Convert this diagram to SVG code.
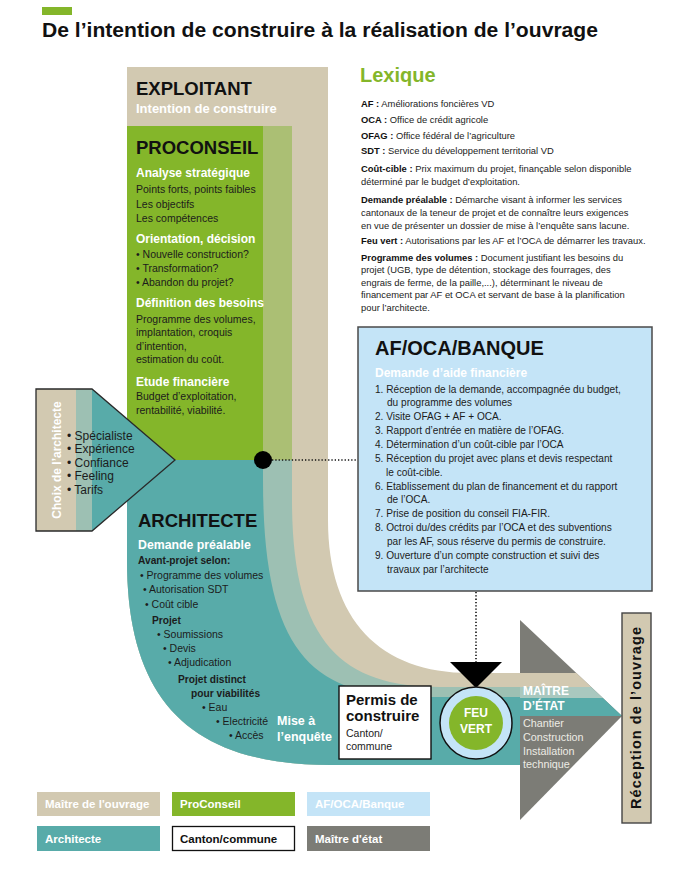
<svg xmlns="http://www.w3.org/2000/svg" width="700" height="874" viewBox="0 0 700 874">
<defs>
<style>
text{font-family:"Liberation Sans",Arial,sans-serif;}
.h1{font-size:18.5px;font-weight:bold;fill:#111}
.h2{font-size:12px;font-weight:bold;fill:#fff}
.t{font-size:10.5px;fill:#1c1c1c}
.tb{font-size:10.2px;font-weight:bold;fill:#1c1c1c}
.lx{font-size:9.4px;fill:#222}
.lx tspan.b{font-weight:bold;fill:#111}
.li{font-size:10.1px;fill:#1c1c1c}
.me{font-size:10.8px;fill:#ecebe4}
.lg{font-size:11.5px;font-weight:bold;fill:#fff}
.dotl{stroke:#111;stroke-width:1.6;stroke-dasharray:1.3 2;fill:none}
.beige{fill:#d2c9b1}
.green{fill:#84b62a}
.olive{fill:#abbf74}
.teal{fill:#58aba9}
.gteal{fill:#9dc0b3}
.blue{fill:#c4e4f7}
.gray{fill:#7c7c76}
</style>
<clipPath id="arrowClip"><path d="M520,620 L622,716 L520,820 Z"/></clipPath>
</defs>
<rect width="700" height="874" fill="#fff"/>

<g id="title">
<rect x="42" y="7" width="30" height="8" class="green"/>
<text x="42" y="37" font-size="19.5" font-weight="bold" fill="#111" textLength="556" lengthAdjust="spacingAndGlyphs">De l’intention de construire à la réalisation de l’ouvrage</text>
</g>

<g id="flow-bands">
<path class="beige" d="M127,67 H328 V520 C328,620 380,673 470,673 H520 V765 H330 C190,765 127,700 127,560 Z"/>
<path class="gteal" d="M127,126 H292 V500 C292,640 340,687 440,687 H520 V765 H330 C190,765 127,700 127,560 Z"/>
<rect x="263" y="126" width="29" height="334" class="olive"/>
<path class="teal" d="M127,460 H263 V480 C263,650 310,697 420,697 H520 V765 H330 C190,765 127,700 127,560 Z"/>
<rect x="127" y="126" width="136" height="334" class="green"/>
</g>

<g id="exploitant">
<text x="136" y="95" class="h1">EXPLOITANT</text>
<text x="136" y="113" font-size="13" font-weight="bold" fill="#fff">Intention de construire</text>
</g>

<g id="proconseil">
<text x="136" y="154" class="h1">PROCONSEIL</text>
<text x="136" y="177" class="h2">Analyse stratégique</text>
<text x="136" y="193" class="t">Points forts, points faibles</text>
<text x="136" y="208" class="t">Les objectifs</text>
<text x="136" y="222" class="t">Les compétences</text>
<text x="136" y="243" class="h2">Orientation, décision</text>
<text x="136" y="258" class="t">• Nouvelle construction?</text>
<text x="136" y="272" class="t">• Transformation?</text>
<text x="136" y="286" class="t">• Abandon du projet?</text>
<text x="136" y="307" class="h2">Définition des besoins</text>
<text x="136" y="323" class="t">Programme des volumes,</text>
<text x="136" y="336" class="t">implantation, croquis</text>
<text x="136" y="350" class="t">d’intention,</text>
<text x="136" y="363" class="t">estimation du coût.</text>
<text x="136" y="386" class="h2">Etude financière</text>
<text x="136" y="400" class="t">Budget d’exploitation,</text>
<text x="136" y="414" class="t">rentabilité, viabilité.</text>
</g>

<g id="architecte">
<text x="138" y="527" class="h1">ARCHITECTE</text>
<text x="138" y="549" font-size="12.3" font-weight="bold" fill="#fff">Demande préalable</text>
<text x="138" y="564" class="tb">Avant-projet selon:</text>
<text x="140" y="579" class="t">• Programme des volumes</text>
<text x="143" y="593" class="t">• Autorisation SDT</text>
<text x="145" y="608" class="t">• Coût cible</text>
<text x="152" y="624" class="tb">Projet</text>
<text x="157" y="638" class="t">• Soumissions</text>
<text x="163" y="652" class="t">• Devis</text>
<text x="168" y="666" class="t">• Adjudication</text>
<text x="178" y="683" class="tb">Projet distinct</text>
<text x="191" y="697" class="tb">pour viabilités</text>
<text x="202" y="711" class="t">• Eau</text>
<text x="216" y="725" class="t">• Electricité</text>
<text x="229" y="739" class="t">• Accès</text>
<text x="277" y="725" font-size="12.5" font-weight="bold" fill="#fff">Mise à</text>
<text x="277" y="741" font-size="12.5" font-weight="bold" fill="#fff">l’enquête</text>
</g>

<g id="choix-architecte">
<path class="teal" d="M36,389 H92 L175,460 L92,531 H36 Z"/>
<rect x="36" y="389" width="40" height="142" class="beige"/>
<rect x="76" y="389" width="16" height="142" class="gteal"/>
<path d="M36,389 H92 L175,460 L92,531 H36 Z" fill="none" stroke="#2a2a2a" stroke-width="1.3"/>
<text transform="translate(61,460) rotate(-90)" text-anchor="middle" font-size="12" font-weight="bold" fill="#fff">Choix de l’architecte</text>
<text x="67" y="440" font-size="12" fill="#1c1c1c">• Spécialiste</text>
<text x="67" y="453" font-size="12" fill="#1c1c1c">• Expérience</text>
<text x="67" y="467" font-size="12" fill="#1c1c1c">• Confiance</text>
<text x="67" y="480" font-size="12" fill="#1c1c1c">• Feeling</text>
<text x="67" y="494" font-size="12" fill="#1c1c1c">• Tarifs</text>
</g>

<g id="lexique">
<text x="360" y="82" font-size="20" font-weight="bold" fill="#84b62a">Lexique</text>
<text class="lx" x="361" y="107"><tspan class="b">AF :</tspan> Améliorations foncières VD</text>
<text class="lx" x="361" y="123"><tspan class="b">OCA :</tspan> Office de crédit agricole</text>
<text class="lx" x="361" y="139"><tspan class="b">OFAG :</tspan> Office fédéral de l’agriculture</text>
<text class="lx" x="361" y="154"><tspan class="b">SDT :</tspan> Service du développement territorial VD</text>
<text class="lx" x="361" y="172"><tspan class="b">Coût-cible :</tspan> Prix maximum du projet, finançable selon disponible</text>
<text class="lx" x="361" y="185">déterminé par le budget d’exploitation.</text>
<text class="lx" x="361" y="203"><tspan class="b">Demande préalable :</tspan> Démarche visant à informer les services</text>
<text class="lx" x="361" y="216">cantonaux de la teneur de projet et de connaître leurs exigences</text>
<text class="lx" x="361" y="229">en vue de présenter un dossier de mise à l’enquête sans lacune.</text>
<text class="lx" x="361" y="244"><tspan class="b">Feu vert :</tspan> Autorisations par les AF et l’OCA de démarrer les travaux.</text>
<text class="lx" x="361" y="261"><tspan class="b">Programme des volumes :</tspan> Document justifiant les besoins du</text>
<text class="lx" x="361" y="273">projet (UGB, type de détention, stockage des fourrages, des</text>
<text class="lx" x="361" y="286">engrais de ferme, de la paille,...), déterminant le niveau de</text>
<text class="lx" x="361" y="298">financement par AF et OCA et servant de base à la planification</text>
<text class="lx" x="361" y="311">pour l’architecte.</text>
</g>

<g id="af-oca-banque">
<rect x="358" y="327" width="294" height="264" class="blue" stroke="#4a4a4a" stroke-width="1.5"/>
<text x="375" y="355" font-size="20" font-weight="bold" fill="#111">AF/OCA/BANQUE</text>
<text x="375" y="377" font-size="12" font-weight="bold" fill="#fff">Demande d’aide financière</text>
<text class="li" x="375" y="393">1. Réception de la demande, accompagnée du budget,</text>
<text class="li" x="387" y="406">du programme des volumes</text>
<text class="li" x="375" y="420">2. Visite OFAG + AF + OCA.</text>
<text class="li" x="375" y="434">3. Rapport d’entrée en matière de l’OFAG.</text>
<text class="li" x="375" y="448">4. Détermination d’un coût-cible par l’OCA</text>
<text class="li" x="375" y="462">5. Réception du projet avec plans et devis respectant</text>
<text class="li" x="386" y="476">le coût-cible.</text>
<text class="li" x="375" y="490">6. Etablissement du plan de financement et du rapport</text>
<text class="li" x="387" y="503">de l’OCA.</text>
<text class="li" x="375" y="517">7. Prise de position du conseil FIA-FIR.</text>
<text class="li" x="375" y="531">8. Octroi du/des crédits par l’OCA et des subventions</text>
<text class="li" x="387" y="545">par les AF, sous réserve du permis de construire.</text>
<text class="li" x="375" y="559">9. Ouverture d’un compte construction et suivi des</text>
<text class="li" x="387" y="573">travaux par l’architecte</text>
</g>

<g id="maitre-etat">
<path class="gray" d="M520,620 L622,716 L520,820 Z"/>
<g clip-path="url(#arrowClip)">
<rect x="520" y="673" width="110" height="14" class="beige"/>
<rect x="520" y="687" width="110" height="11" fill="#a9c8bf"/>
<rect x="520" y="698" width="110" height="18" class="teal"/>
</g>
<text x="523" y="695" font-size="12" font-weight="bold" fill="#fff">MAÎTRE</text>
<text x="523" y="710" font-size="12" font-weight="bold" fill="#fff">D’ÉTAT</text>
<text class="me" x="523" y="727">Chantier</text>
<text class="me" x="523" y="741">Construction</text>
<text class="me" x="523" y="755">Installation</text>
<text class="me" x="523" y="768">technique</text>
</g>

<g id="connectors">
<line x1="272" y1="460" x2="357" y2="460" class="dotl"/>
<line x1="476" y1="592" x2="476" y2="662" class="dotl"/>
<path d="M450,662 H502 L476,688 Z" fill="#000"/>
<circle cx="263" cy="460" r="9" fill="#000"/>
</g>

<g id="permis">
<rect x="339" y="686" width="92" height="73" fill="#fff" stroke="#111" stroke-width="1.4"/>
<text x="346" y="705" font-size="15" font-weight="bold" fill="#111">Permis de</text>
<text x="346" y="721" font-size="15" font-weight="bold" fill="#111">construire</text>
<text x="346" y="737" font-size="10.5" fill="#1c1c1c">Canton/</text>
<text x="346" y="750" font-size="10.5" fill="#1c1c1c">commune</text>
</g>

<g id="feu-vert">
<circle cx="476" cy="723" r="36" class="blue" stroke="#111" stroke-width="1.5"/>
<circle cx="476" cy="723" r="27" class="green"/>
<text x="476" y="717" text-anchor="middle" font-size="12" font-weight="bold" fill="#fff">FEU</text>
<text x="476" y="733" text-anchor="middle" font-size="12" font-weight="bold" fill="#fff">VERT</text>
</g>

<g id="reception">
<rect x="622" y="613" width="29" height="210" class="beige" stroke="#444" stroke-width="1.4"/>
<text transform="translate(641,718) rotate(-90)" text-anchor="middle" font-size="14.5" font-weight="bold" fill="#111" textLength="182" lengthAdjust="spacing">Réception de l’ouvrage</text>
</g>

<g id="legend">
<rect x="37" y="792" width="123" height="24" class="beige"/>
<text x="45" y="808" class="lg">Maître de l'ouvrage</text>
<rect x="172" y="792" width="123" height="24" class="green"/>
<text x="180" y="808" class="lg">ProConseil</text>
<rect x="307" y="792" width="123" height="24" class="blue"/>
<text x="315" y="808" class="lg">AF/OCA/Banque</text>
<rect x="37" y="826" width="123" height="25" class="teal"/>
<text x="45" y="843" class="lg">Architecte</text>
<rect x="172.5" y="826.5" width="122" height="24" fill="#fff" stroke="#111" stroke-width="1.3"/>
<text x="180" y="843" class="lg" style="fill:#111">Canton/commune</text>
<rect x="307" y="826" width="123" height="25" class="gray"/>
<text x="315" y="843" class="lg">Maître d'état</text>
</g>
</svg>
